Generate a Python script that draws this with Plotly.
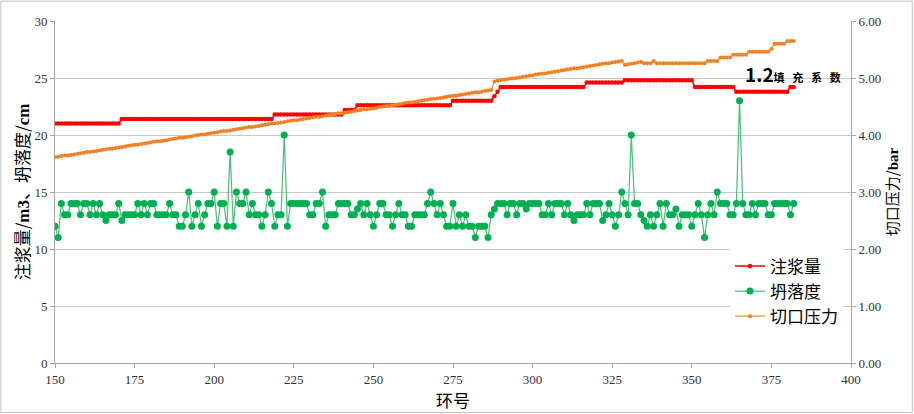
import plotly.graph_objects as go

# ring numbers 150..382
rings = list(range(150, 383))

# 注浆量 (m3), one value per ring
grout = [
    21.0, 21.0, 21.0, 21.0, 21.0, 21.0, 21.0, 21.0, 21.0, 21.0,
    21.0, 21.0, 21.0, 21.0, 21.0, 21.0, 21.0, 21.0, 21.0, 21.0,
    21.0, 21.4, 21.4, 21.4, 21.4, 21.4, 21.4, 21.4, 21.4, 21.4,
    21.4, 21.4, 21.4, 21.4, 21.4, 21.4, 21.4, 21.4, 21.4, 21.4,
    21.4, 21.4, 21.4, 21.4, 21.4, 21.4, 21.4, 21.4, 21.4, 21.4,
    21.4, 21.4, 21.4, 21.4, 21.4, 21.4, 21.4, 21.4, 21.4, 21.4,
    21.4, 21.4, 21.4, 21.4, 21.4, 21.4, 21.4, 21.4, 21.4, 21.8,
    21.8, 21.8, 21.8, 21.8, 21.8, 21.8, 21.8, 21.8, 21.8, 21.8,
    21.8, 21.8, 21.8, 21.8, 21.8, 21.8, 21.8, 21.8, 21.8, 21.8,
    21.8, 22.2, 22.2, 22.2, 22.2, 22.6, 22.6, 22.6, 22.6, 22.6,
    22.6, 22.6, 22.6, 22.6, 22.6, 22.6, 22.6, 22.6, 22.6, 22.6,
    22.6, 22.6, 22.6, 22.6, 22.6, 22.6, 22.6, 22.6, 22.6, 22.6,
    22.6, 22.6, 22.6, 22.6, 22.6, 23.0, 23.0, 23.0, 23.0, 23.0,
    23.0, 23.0, 23.0, 23.0, 23.0, 23.0, 23.0, 23.0, 23.4, 23.8,
    24.2, 24.2, 24.2, 24.2, 24.2, 24.2, 24.2, 24.2, 24.2, 24.2,
    24.2, 24.2, 24.2, 24.2, 24.2, 24.2, 24.2, 24.2, 24.2, 24.2,
    24.2, 24.2, 24.2, 24.2, 24.2, 24.2, 24.2, 24.6, 24.6, 24.6,
    24.6, 24.6, 24.6, 24.6, 24.6, 24.6, 24.6, 24.6, 24.6, 24.8,
    24.8, 24.8, 24.8, 24.8, 24.8, 24.8, 24.8, 24.8, 24.8, 24.8,
    24.8, 24.8, 24.8, 24.8, 24.8, 24.8, 24.8, 24.8, 24.8, 24.8,
    24.8, 24.2, 24.2, 24.2, 24.2, 24.2, 24.2, 24.2, 24.2, 24.2,
    24.2, 24.2, 24.2, 24.2, 23.8, 23.8, 23.8, 23.8, 23.8, 23.8,
    23.8, 23.8, 23.8, 23.8, 23.8, 23.8, 23.8, 23.8, 23.8, 23.8,
    23.8, 24.2, 24.2,
]

# 坍落度 (cm)
slump = [
    12, 11, 14, 13, 13, 14, 14, 14, 13, 14,
    14, 13, 14, 13, 14, 13, 12.5, 13, 13, 13,
    14, 12.5, 13, 13, 13, 13, 14, 13, 14, 13,
    14, 14, 13, 13, 13, 13, 14, 13, 13, 12,
    12, 13, 15, 12, 13, 14, 12, 13, 14, 14,
    15, 12, 14, 14, 12, 18.5, 12, 15, 14, 14,
    15, 13, 14, 13, 13, 12, 13, 15, 14, 12,
    13, 13, 20, 12, 14, 14, 14, 14, 14, 14,
    13, 13, 14, 14, 15, 12, 13, 13, 13, 14,
    14, 14, 14, 13, 13, 13.5, 14, 13, 14, 13,
    12, 13, 14, 14, 13, 13, 12, 13, 14, 13,
    13, 12, 12, 13, 13, 13, 13, 14, 15, 14,
    13, 14, 13, 12, 12, 14, 12, 13, 12, 13,
    12, 12, 11, 12, 12, 12, 11, 13, 13.5, 14,
    14, 14, 13, 14, 14, 13, 14, 14, 13.5, 14,
    14, 14, 14, 13, 13, 14, 13, 14, 14, 14,
    13, 14, 13, 12.5, 13, 13, 13, 14, 13, 14,
    14, 14, 12.5, 13, 14, 13, 12, 13, 15, 14,
    13, 20, 14, 14, 13, 12.5, 12, 13, 12, 13,
    14, 12, 14, 13, 13, 13.5, 12, 13, 13, 13,
    12, 13, 14, 13, 11, 13, 14, 13, 15, 14,
    14, 14, 13, 13, 14, 23, 14, 13, 13, 14,
    13, 14, 14, 14, 13, 13, 14, 14, 14, 14,
    14, 13, 14,
]

# 切口压力 (bar)
pressure = [
    3.61, 3.62, 3.63, 3.64, 3.64, 3.65, 3.66, 3.67, 3.68, 3.69,
    3.70, 3.70, 3.71, 3.72, 3.73, 3.74, 3.75, 3.76, 3.76, 3.77,
    3.78, 3.79, 3.80, 3.81, 3.82, 3.83, 3.83, 3.84, 3.85, 3.86,
    3.87, 3.88, 3.89, 3.89, 3.90, 3.91, 3.92, 3.93, 3.94, 3.95,
    3.95, 3.96, 3.97, 3.98, 3.99, 4.00, 4.01, 4.01, 4.02, 4.03,
    4.04, 4.05, 4.06, 4.07, 4.07, 4.08, 4.09, 4.10, 4.11, 4.12,
    4.13, 4.14, 4.14, 4.15, 4.16, 4.17, 4.18, 4.19, 4.20, 4.20,
    4.21, 4.22, 4.23, 4.24, 4.25, 4.26, 4.26, 4.27, 4.28, 4.29,
    4.30, 4.31, 4.32, 4.32, 4.33, 4.34, 4.35, 4.36, 4.37, 4.38,
    4.38, 4.39, 4.40, 4.41, 4.42, 4.43, 4.44, 4.45, 4.45, 4.46,
    4.47, 4.48, 4.49, 4.50, 4.51, 4.51, 4.52, 4.53, 4.54, 4.55,
    4.56, 4.57, 4.57, 4.58, 4.59, 4.60, 4.61, 4.62, 4.63, 4.63,
    4.64, 4.65, 4.66, 4.67, 4.68, 4.69, 4.69, 4.70, 4.71, 4.72,
    4.73, 4.74, 4.75, 4.75, 4.76, 4.77, 4.78, 4.79, 4.94, 4.95,
    4.96, 4.97, 4.98, 4.99, 4.99, 5.00, 5.01, 5.02, 5.03, 5.04,
    5.05, 5.06, 5.07, 5.08, 5.08, 5.09, 5.10, 5.11, 5.12, 5.13,
    5.14, 5.15, 5.16, 5.17, 5.17, 5.18, 5.19, 5.20, 5.21, 5.22,
    5.23, 5.24, 5.25, 5.26, 5.26, 5.27, 5.28, 5.29, 5.30, 5.23,
    5.24, 5.25, 5.26, 5.27, 5.28, 5.26, 5.26, 5.26, 5.30, 5.26,
    5.26, 5.26, 5.26, 5.26, 5.26, 5.26, 5.26, 5.26, 5.26, 5.26,
    5.26, 5.26, 5.26, 5.26, 5.26, 5.30, 5.30, 5.30, 5.30, 5.36,
    5.36, 5.36, 5.36, 5.41, 5.41, 5.41, 5.41, 5.41, 5.46, 5.46,
    5.46, 5.46, 5.46, 5.46, 5.46, 5.51, 5.60, 5.60, 5.60, 5.60,
    5.65, 5.65, 5.65,
]

serif = "Liberation Serif"
sans = "Noto Sans CJK SC, sans-serif"

fig = go.Figure()
fig.add_trace(go.Scatter(x=rings, y=grout, name="注浆量", mode="lines+markers",
                         line=dict(color="#FF0000", width=1.5),
                         marker=dict(color="#FF0000", size=4.5)))
fig.add_trace(go.Scatter(x=rings, y=slump, name="坍落度", mode="lines+markers",
                         line=dict(color="#45C276", width=1.2),
                         marker=dict(color="#00B050", size=7)))
fig.add_trace(go.Scatter(x=rings, y=pressure, name="切口压力", mode="lines+markers",
                         yaxis="y2",
                         line=dict(color="#F39037", width=1.2),
                         marker=dict(color="#F08022", size=4)))

fig.add_annotation(x=366, y=25.4, xref="x", yref="y", xanchor="left", yanchor="middle",
                   showarrow=False,
                   text="<b>1.2</b><span style='font-size:11px'><b>填\u2002\u2009充\u2002\u2009系\u2002\u2009数</b></span>",
                   font=dict(family=sans, size=19, color="#000000"))

# light frame around the whole chart area
fig.add_shape(type="rect", xref="paper", yref="paper",
              x0=-0.068, x1=1.077, y0=-0.145, y1=1.058,
              line=dict(color="#BFBFBF", width=1))

axis_common = dict(showline=True, linecolor="#A6A6A6", linewidth=1, zeroline=False,
                   ticks="outside", ticklen=4, tickcolor="#A6A6A6", automargin=False,
                   tickfont=dict(family=serif, size=13, color="#333333"))

fig.update_layout(
    width=914, height=414,
    margin=dict(l=55, r=63, t=21, b=51),
    paper_bgcolor="white", plot_bgcolor="white",
    showlegend=True,
    legend=dict(x=0.848, y=0.335, xanchor="left", yanchor="top",
                bgcolor="white", borderwidth=0,
                font=dict(family=sans, size=17, color="#000000"),
                itemwidth=30, tracegroupgap=0),
    xaxis=dict(range=[150, 400], dtick=25, tick0=150, showgrid=False,
               title=dict(text="环号", font=dict(family=sans, size=17, color="#000000"),
                          standoff=0),
               **axis_common),
    yaxis=dict(range=[0, 30], dtick=5,
               showgrid=True, gridcolor="#C8C8C8", gridwidth=1,
               title=dict(text="注浆量/<span style='font-family:Liberation Serif'><b>m3</b></span>、坍落度/<span style='font-family:Liberation Serif'><b>cm</b></span>",
                          font=dict(family=sans, size=17, color="#000000"),
                          standoff=0),
               **axis_common),
    yaxis2=dict(range=[0, 6], dtick=1, tickformat=".2f", overlaying="y", side="right",
                showgrid=False,
                title=dict(text="切口压力/<span style='font-family:Liberation Serif'><b>bar</b></span>",
                           font=dict(family=sans, size=15, color="#000000"),
                           standoff=6),
                **axis_common),
)

# drop the default page margin so the figure sits at the window's corner
fig.write_html("out.html", config={"displayModeBar": False},
               post_script="document.body.style.margin='0';")
